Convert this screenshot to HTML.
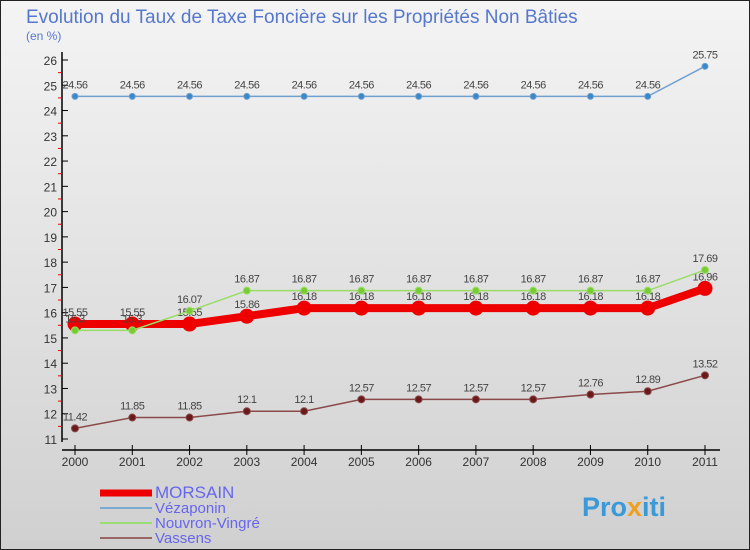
<!DOCTYPE html>
<html><head><meta charset="utf-8"><style>
body{margin:0;width:750px;height:550px;overflow:hidden;font-family:"Liberation Sans",sans-serif}
svg{display:block}
</style></head><body>
<svg width="750" height="550" xmlns="http://www.w3.org/2000/svg">
<defs><linearGradient id="bg" x1="0" y1="0" x2="0" y2="1"><stop offset="0" stop-color="#f4f4f4"/><stop offset="1" stop-color="#d0d0d0"/></linearGradient></defs>
<rect x="0" y="0" width="750" height="550" fill="url(#bg)"/>
<rect x="0.5" y="0.5" width="749" height="549" fill="none" stroke="#222"/>
<text x="26" y="23" font-size="19" fill="#5577cc">Evolution du Taux de Taxe Foncière sur les Propriétés Non Bâties</text>
<text x="26" y="40" font-size="12" fill="#5577cc">(en %)</text>
<g id="axes"></g><g id="series"></g><g id="legend"></g>
<text x="582" y="516" font-size="27" font-weight="bold" fill="#3a9ad9">Pro<tspan fill="#f0a020">x</tspan>iti</text>
</svg>
<script>
const years=["2000","2001","2002","2003","2004","2005","2006","2007","2008","2009","2010","2011"];
const yTicks=[11,12,13,14,15,16,17,18,19,20,21,22,23,24,25,26];
const morsain=[15.55,15.55,15.55,15.86,16.18,16.18,16.18,16.18,16.18,16.18,16.18,16.96];
const vezaponin=[24.56,24.56,24.56,24.56,24.56,24.56,24.56,24.56,24.56,24.56,24.56,25.75];
const nouvron=[15.3,15.3,16.07,16.87,16.87,16.87,16.87,16.87,16.87,16.87,16.87,17.69];
const vassens=[11.42,11.85,11.85,12.1,12.1,12.57,12.57,12.57,12.57,12.76,12.89,13.52];
const NS="http://www.w3.org/2000/svg";
const X=i=>75+i*(630/11);
const Y=v=>439-(v-11)*(379/15);
function mk(t,a,p){const e=document.createElementNS(NS,t);for(const k in a)e.setAttribute(k,a[k]);p.appendChild(e);return e;}
const ax=document.getElementById('axes');
let e=mk('line',{x1:62,y1:52,x2:62,y2:442,stroke:'#000','stroke-width':1.5},ax);

e=mk('line',{x1:62,y1:450,x2:720,y2:450,stroke:'#000','stroke-width':1.5},ax);

yTicks.forEach((v,i)=>{
 mk('line',{x1:62,y1:Y(v),x2:68,y2:Y(v),stroke:'#000'},ax);
 if(i<yTicks.length-1)mk('line',{x1:58,y1:Y(v+0.5),x2:62,y2:Y(v+0.5),stroke:'#e00'},ax);
 const t=mk('text',{x:57,y:Y(v)+5,'font-size':12,'text-anchor':'end',fill:'#333'},ax);t.textContent=v;
 
});
years.forEach((y,i)=>{
 mk('line',{x1:X(i),y1:445,x2:X(i),y2:455,stroke:'#000'},ax);
 const t=mk('text',{x:X(i),y:466,'font-size':12,'text-anchor':'middle',fill:'#333'},ax);t.textContent=y;
 
});
const sg=document.getElementById('series');
function series(name,d,color,w,r,dot){
 const g=mk('g',{},sg);
 
 const l=mk('polyline',{points:d.map((v,i)=>X(i)+','+Y(v)).join(' '),fill:'none',stroke:color,'stroke-width':w,'stroke-linejoin':'round'},g);
 
 d.forEach((v,i)=>{
  const c=mk('circle',{cx:X(i),cy:Y(v),r:r,fill:dot,stroke:color,'stroke-width':1},g);
  
  const t=mk('text',{x:X(i),y:Y(v)-8,'font-size':11,'text-anchor':'middle',fill:'#444','letter-spacing':'-0.5'},g);
  t.textContent=v;
  
 });
}
series('vezaponin',vezaponin,'#6fa0d0',1.5,3,'#3a88c8');
series('vassens',vassens,'#8a4a4a',1.5,3.5,'#6a1a1a');
series('morsain',morsain,'#ee0000',8,7,'#ee0000');
series('nouvron',nouvron,'#99dd66',1.5,3.5,'#77cc33');
const lg=document.getElementById('legend');
[['MORSAIN','#ee0000',7,17],['Vézaponin','#7aaad0',2,15],['Nouvron-Vingré','#99dd77',2,15],['Vassens','#996666',2,15]].forEach((s,i)=>{
 const y=493+i*15;
 const l=mk('rect',{x:100,y:y-s[2]/2,width:52,height:s[2],fill:s[1]},lg);
 
 const t=mk('text',{x:155,y:y+5,'font-size':s[3],fill:'#6666ee'},lg);t.textContent=s[0];
 
});
</script>
</body></html>
